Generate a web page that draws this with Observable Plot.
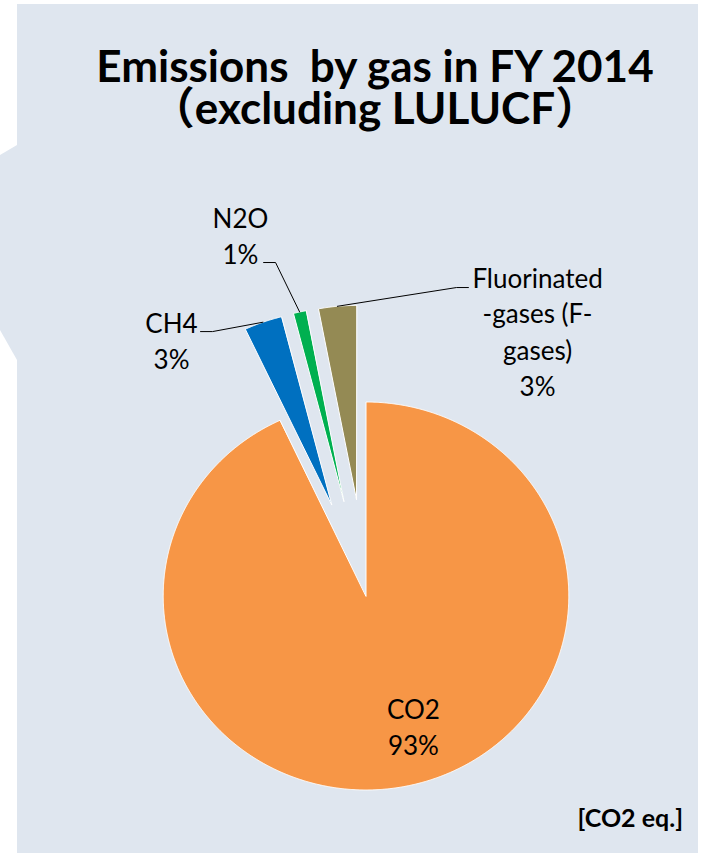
<!DOCTYPE html>
<html>
<head>
<meta charset="utf-8">
<script src="https://cdn.jsdelivr.net/npm/d3@7"></script>
<script src="https://cdn.jsdelivr.net/npm/@observablehq/plot@0.6"></script>
<style>
  html, body { margin: 0; padding: 0; background: #fff; }
  #page { position: relative; width: 707px; height: 853px; overflow: hidden; background: #fff;
          font-family: Lato, "Noto Sans CJK JP", sans-serif; color: #000; }
  #panel { position: absolute; left: 17px; top: 4px; width: 681px; height: 849px; background: #dfe6ef; }
  #tab { position: absolute; left: 0; top: 145px; width: 17px; height: 215px; background: #dfe6ef;
         clip-path: polygon(0 10px, 100% 0, 100% 100%, 0 185px); }
  #title { position: absolute; left: 43px; top: 44px; width: 664px; text-align: center; font-weight: 700;
           font-size: 44px; line-height: 42px; white-space: pre; }
  #unit { position: absolute; right: 24px; top: 805px; font-weight: 700; font-size: 25px; line-height: 25px; }
  #chart { position: absolute; left: 0; top: 0; }
</style>
</head>
<body>
<div id="page">
  <div id="panel"></div>
  <div id="tab"></div>
  <div id="title">Emissions  by gas in FY 2014
（excluding LULUCF）</div>
  <div id="chart"></div>
  <div id="unit">[CO2 eq.]</div>
</div>
<script>
// Greenhouse gas shares of total emissions, FY 2014 (CO2 equivalent, %)
const gases = ["CO2", "CH4", "N2O", "Fluorinated\n-gases (F-\ngases)"];
const shares = [93, 3, 1, 3];

// Slice fills, in the same order as the gases
const sliceColors = ["#f79646", "#0070c0", "#00b050", "#948a54"];
// How far each slice is pulled out from the centre, as a fraction of the radius
const explode = [0, 0.5, 0.5, 0.5];

// Label anchors in pie units (centre at 0,0, radius 1)
const labelPos = [[0.234, -0.500], [-0.959, 1.490], [-0.619, 2.031], [0.846, 1.722]];
// Leader line start and elbow for the outside labels, pie units
const leaderPos = [null,
  [[-0.816, 1.363], [-0.757, 1.363]],
  [[-0.505, 1.719], [-0.446, 1.719]],
  [[0.505, 1.590], [0.446, 1.590]]];

const rows = gases.map((gas, i) => ({gas, share: shares[i]}));
// d3.pie angles start at 12 o'clock and run clockwise
const arcs = d3.pie().sort(null).value(d => d.share)(rows);

// Outline of every slice as a closed polygon: apex, then points along the arc
const slicePts = arcs.flatMap((a, i) => {
  const mid = (a.startAngle + a.endAngle) / 2;
  const ox = explode[i] * Math.sin(mid), oy = explode[i] * Math.cos(mid);
  const n = Math.max(2, Math.ceil((a.endAngle - a.startAngle) / (Math.PI / 720)));
  const pts = [{gas: a.data.gas, x: ox, y: oy}];
  for (let k = 0; k <= n; k++) {
    const t = a.startAngle + (a.endAngle - a.startAngle) * k / n;
    pts.push({gas: a.data.gas, x: ox + Math.sin(t), y: oy + Math.cos(t)});
  }
  return pts;
});

// Leader lines: label start -> elbow -> middle of the slice's outer edge
const leaderPts = arcs.flatMap((a, i) => {
  if (!leaderPos[i]) return [];
  const mid = (a.startAngle + a.endAngle) / 2;
  const r = 1 + explode[i];
  return [
    {gas: a.data.gas, x: leaderPos[i][0][0], y: leaderPos[i][0][1]},
    {gas: a.data.gas, x: leaderPos[i][1][0], y: leaderPos[i][1][1]},
    {gas: a.data.gas, x: r * Math.sin(mid), y: r * Math.cos(mid)}
  ];
});

const chart = Plot.plot({
  width: 707,
  height: 853,
  margin: 0,
  x: {domain: [-1.8023, 1.6839], axis: null},
  y: {domain: [-1.3273, 3.0696], axis: null},
  color: {domain: gases, range: sliceColors},
  style: {background: "transparent", overflow: "visible", fontFamily: 'Lato, "Noto Sans CJK JP", sans-serif'},
  marks: [
    Plot.line(slicePts, {x: "x", y: "y", z: "gas", fill: "gas", stroke: "white", strokeWidth: 1, curve: "linear-closed"}),
    Plot.line(leaderPts, {x: "x", y: "y", z: "gas", stroke: "black", strokeWidth: 1}),
    Plot.text(rows, {
      x: (d, i) => labelPos[i][0],
      y: (d, i) => labelPos[i][1],
      text: d => `${d.gas}\n${d.share}%`,
      lineAnchor: "top",
      lineHeight: 1.385,
      fontSize: 26,
      fill: "black"
    })
  ]
});
document.getElementById("chart").append(chart);
</script>
</body>
</html>
